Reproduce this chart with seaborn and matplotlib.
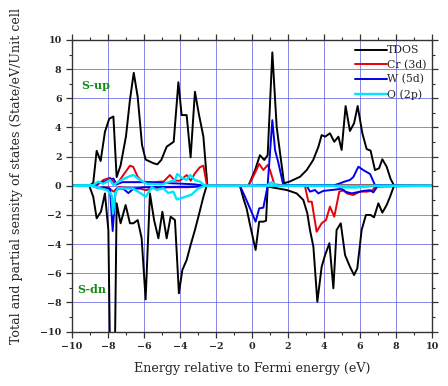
import numpy as np
import pandas as pd
import seaborn as sns
import matplotlib.pyplot as plt
from matplotlib.ticker import MultipleLocator

sns.set_theme(style="white")
plt.rcParams['font.family'] = ['DejaVu Serif']

# ---- data (energy in eV, DOS in states/eV/cell) ----
tdos_up_e = [-10, -9.04, -8.82, -8.63, -8.41, -8.17, -7.93, -7.70, -7.52, -7.30, -7.00, -6.78,
             -6.57, -6.35, -6.11, -5.91, -5.48, -5.26, -5.04, -4.74, -4.35, -4.09, -3.91, -3.63,
             -3.41, -3.17, -2.96, -2.70, -2.48, -0.20, 0.17, 0.44, 0.68, 0.87, 1.13, 1.37, 1.56,
             1.78, 2.11, 2.67, 3.04, 3.40, 3.69, 3.87, 4.06, 4.33, 4.57, 4.80, 4.98, 5.20, 5.44,
             5.67, 5.87, 6.13, 6.37, 6.59, 6.83, 7.06, 7.24, 7.48, 7.70, 7.90, 10]
tdos_up = [0, 0, 0.2, 2.4, 1.7, 3.7, 4.6, 4.75, 0.6, 1.4, 3.4, 5.9,
           7.75, 6.1, 2.8, 1.8, 1.55, 1.47, 1.77, 2.68, 3.02, 7.1, 4.85, 4.85,
           1.95, 6.45, 4.97, 3.37, 0, 0, 1.08, 2.1, 1.77, 2.1, 9.15, 4.05, 2.23,
           0.17, 0.3, 0.62, 1.08, 1.77, 2.68, 3.48, 3.37, 3.6, 3.02, 3.37, 2.46, 5.47, 3.76,
           4.29, 5.47, 3.6, 2.52, 2.41, 1.08, 1.2, 1.82, 1.31, 0.47, 0, 0]

tdos_dn_e = [-10, -9.04, -8.82, -8.63, -8.39, -8.17, -7.98, -7.86, -7.64, -7.52, -7.30, -7.02,
             -6.78, -6.59, -6.35, -6.13, -5.91, -5.67, -5.44, -5.20, -4.98, -4.74, -4.52, -4.28,
             -4.06, -3.87, -3.63, -3.41, -3.17, -2.93, -2.70, -2.52, -0.67, -0.48, -0.30, -0.07,
             0.20, 0.40, 0.63, 0.78, 0.87, 1.30, 1.93, 2.48, 2.85, 3.07, 3.22, 3.41, 3.63, 3.87,
             4.06, 4.30, 4.52, 4.70, 4.93, 5.17, 5.44, 5.67, 5.85, 6.09, 6.33, 6.59, 6.78, 7.02,
             7.24, 7.48, 7.67, 7.89, 10]
tdos_dn = [0, 0, -0.75, -2.23, -1.77, -0.52, -3.03, -14, -14, -1.2, -2.57, -1.32,
           -2.57, -2.57, -2.35, -3.6, -7.79, -0.52, -2.35, -3.6, -1.78, -3.6, -2.12, -2.35,
           -7.37, -5.77, -5.09, -4.06, -3.03, -1.89, -0.75, 0, 0, -0.86, -1.55, -2.9,
           -4.4, -2.46, -2.46, -2.4, -0.05, -0.15, -0.29, -0.52, -0.97, -1.87, -3.03, -4.17, -7.95, -5.55,
           -4.75, -3.94, -7.03, -3.03, -2.57, -4.75, -5.55, -6.12, -5.66, -3.03, -2.0, -2.0, -2.16, -1.2,
           -1.84, -1.32, -0.75, 0, 0]

cr_up_e = [-10, -8.9, -8.6, -8.26, -7.89, -7.61, -7.5, -7.15, -6.78, -6.6, -6.35, -6.1, -5.5,
           -4.9, -4.56, -4.3, -4.0, -3.63, -3.4, -3.17, -2.9, -2.7, -2.5, -0.2, 0.11, 0.4, 0.63,
           0.87, 1.0, 1.24, 1.6, 6.9, 10]
cr_up = [0, 0, 0.05, 0.4, 0.55, 0.1, 0.1, 0.74, 1.38, 1.3, 0.62, 0.28, 0.25,
         0.3, 0.74, 0.35, 0.35, 0.74, 0.35, 0.86, 1.27, 1.38, 0, 0, 0.74, 1.5, 1.08,
         1.43, 1.08, 0.1, 0.05, 0.05, 0]

cr_dn_e = [-10, -8.9, -8.5, -8.0, -7.7, -7.4, -6.8, -6.2, -5.9, -5.5, -4.5, -3.5, -2.6,
           2.94, 3.13, 3.32, 3.59, 3.87, 4.11, 4.33, 4.57, 4.85, 5.11, 5.26, 5.63, 6.0, 6.37,
           6.65, 6.9, 10]
cr_dn = [0, 0, -0.15, -0.1, -0.4, -0.1, -0.15, -0.2, -0.3, -0.15, -0.1, -0.1, 0,
         0, -1.09, -1.09, -3.15, -2.57, -2.35, -1.43, -2.12, -0.4, -0.3, -0.52, -0.63, -0.4, -0.4,
         -0.35, 0, 0]

w_up_e = [-10, -8.9, -8.6, -8.17, -7.89, -7.7, -7.52, -7.2, -6.0, -5.0, -4.0, -3.2, -2.6,
          -0.2, 0.4, 0.87, 1.13, 1.28, 1.46, 1.74, 4.6, 4.89, 5.17, 5.44, 5.63, 5.91, 6.18,
          6.56, 6.83, 10]
w_up = [0, 0, 0.15, 0.3, 0.45, 0.5, 0.1, 0.25, 0.25, 0.2, 0.15, 0.1, 0,
        0, 0.05, 0.05, 4.5, 2.46, 1.6, 0.05, 0.05, 0.17, 0.3, 0.4, 0.6, 1.31, 1.08,
        0.81, 0.05, 0]

w_dn_e = [-10, -8.82, -8.54, -8.26, -7.89, -7.74, -7.58, -7.52, -7.15, -6.87, -6.59, -6.0,
          -3.0, -2.6, -0.67, -0.39, -0.11, 0.2, 0.4, 0.63, 0.87, 3.04, 3.22, 3.5, 3.69, 3.96,
          4.33, 4.7, 4.98, 5.17, 5.54, 5.81, 6.2, 6.56, 6.74, 6.96, 10]
w_dn = [0, 0, -0.17, -0.1, -0.2, -3.1, -0.4, -0.2, -0.2, -0.5, -0.2, -0.1,
        -0.05, 0, 0, -0.75, -1.55, -2.46, -1.55, -1.5, 0, 0, -0.4, -0.29, -0.52, -0.35,
        -0.3, -0.25, -0.2, -0.4, -0.52, -0.45, -0.35, -0.3, -0.45, -0.05, 0]

o_up_e = [-10, -8.82, -8.54, -8.26, -7.89, -7.7, -7.33, -6.87, -6.59, -6.22, -5.85, -5.0,
          -4.28, -4.15, -3.91, -3.63, -3.44, -3.17, -2.89, -2.61, 0.8, 1.1, 1.4, 10]
o_up = [0, 0.05, 0.28, 0.14, 0.4, 0.05, 0.35, 0.62, 0.74, 0.4, 0.14, 0.1,
        0.4, 0.81, 0.56, 0.4, 0.74, 0.4, 0.28, 0, 0, 0.25, 0, 0]

o_dn_e = [-10, -8.91, -8.44, -8.07, -7.8, -7.72, -7.6, -7.43, -6.6, -6.2, -5.9, -5.57,
          -5.3, -4.93, -4.65, -4.37, -4.18, -3.81, -3.35, -2.98, -2.61, 4.5, 5.0, 5.6, 6.3, 6.8, 10]
o_dn = [0, 0, -0.17, -0.29, -0.6, -1.9, -0.5, -0.17, -0.2, -0.5, -0.75, -0.1,
        -0.29, -0.17, -0.5, -0.4, -0.93, -0.8, -0.6, -0.17, 0, 0, -0.1, -0.12, -0.08, 0, 0]

series = [
    ("TDOS", "black", tdos_up_e, tdos_up, tdos_dn_e, tdos_dn),
    ("Cr (3d)", "#e8000b", cr_up_e, cr_up, cr_dn_e, cr_dn),
    ("W (5d)", "#0000e6", w_up_e, w_up, w_dn_e, w_dn),
    ("O (2p)", "#00e5ff", o_up_e, o_up, o_dn_e, o_dn),
]

fig = plt.figure(figsize=(4.48, 3.86), dpi=100)
ax = fig.add_axes([0.1607, 0.1409, 0.8036, 0.7555])

for name, col, ue, uv, de, dv in series:
    lw = 1.7 if name == "O (2p)" else 1.4
    sns.lineplot(x=np.array(ue), y=np.array(uv), color=col, linewidth=lw,
                 sort=False, estimator=None, label=name, ax=ax)
    sns.lineplot(x=np.array(de), y=np.array(dv), color=col, linewidth=lw,
                 sort=False, estimator=None, ax=ax)

ax.set_xlim(-10, 10)
ax.set_ylim(-10, 10)
ax.xaxis.set_major_locator(MultipleLocator(2))
ax.yaxis.set_major_locator(MultipleLocator(2))
ax.xaxis.set_minor_locator(MultipleLocator(1))
ax.yaxis.set_minor_locator(MultipleLocator(1))
ax.grid(True, which="major", color="#5555dd", linewidth=0.7, alpha=0.7)
ax.set_axisbelow(True)

ax.tick_params(which="both", direction="out", bottom=True, left=True, top=True, right=True,
               color="#333333", labelsize=6.8)
ax.tick_params(which="major", length=4, width=0.9)
ax.tick_params(which="minor", length=2.5, width=0.8)
for lab in ax.get_xticklabels() + ax.get_yticklabels():
    lab.set_fontweight("bold")
for sp in ax.spines.values():
    sp.set_color("#333333")
    sp.set_linewidth(1.0)

ax.set_xlabel("Energy relative to Fermi energy (eV)", fontsize=9.1, labelpad=8)
ax.set_ylabel("Total and partial sensity of states (State/eV/Unit cell", fontsize=9.1)
ax.yaxis.set_label_coords(-0.135, 0.534)

ax.text(-9.5, 6.9, "S-up", color="#138a13", fontsize=8, fontweight="bold", va="center")
ax.text(-9.7, -7.1, "S-dn", color="#138a13", fontsize=8, fontweight="bold", va="center")

ax.legend(loc="upper right", frameon=False, fontsize=7.8, handlelength=3.0,
          handletextpad=0.0, labelspacing=0.4, borderaxespad=0.1)

fig.savefig("out.png", dpi=100)
